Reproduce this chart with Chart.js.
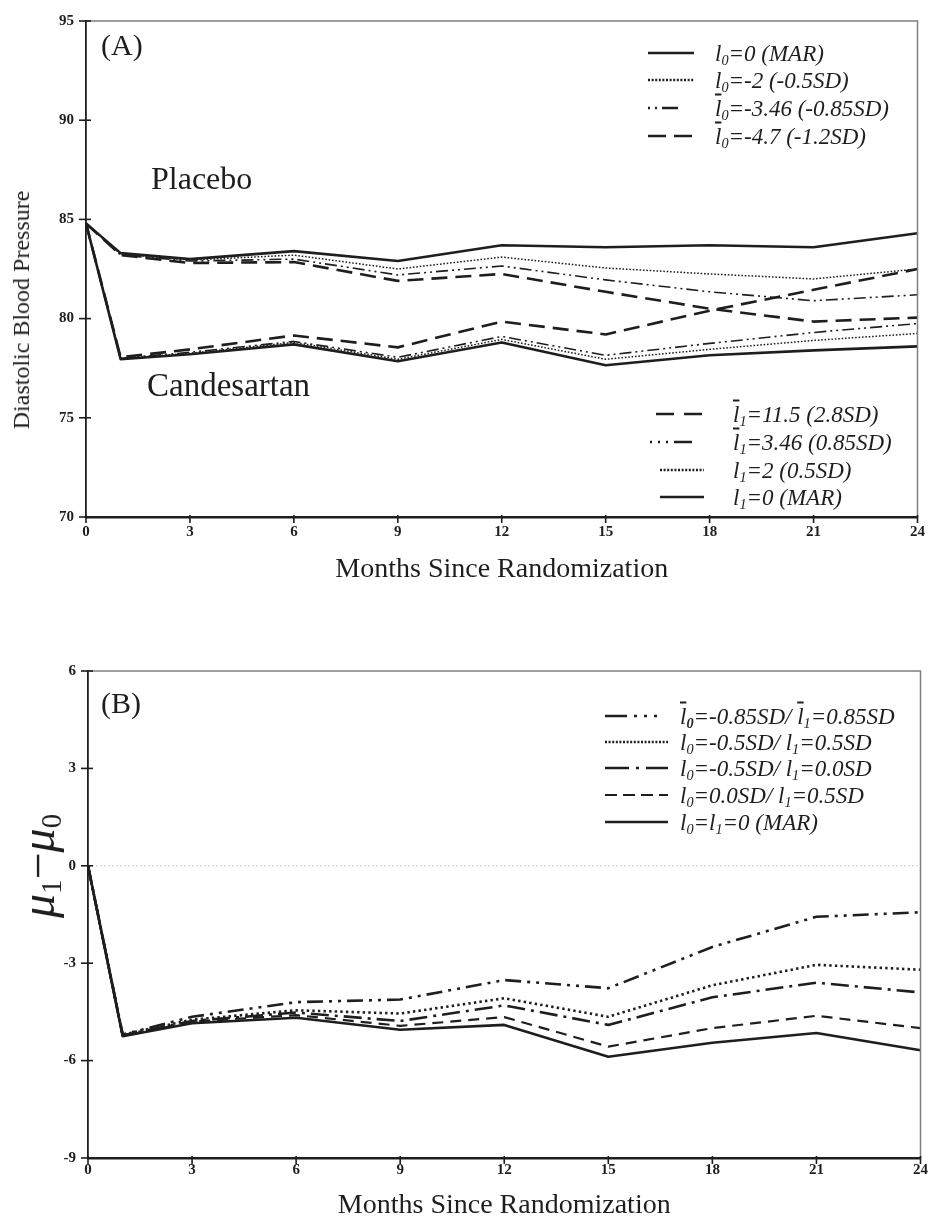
<!DOCTYPE html>
<html>
<head>
<meta charset="utf-8">
<script src="https://cdn.jsdelivr.net/npm/chart.js@4.4.1/dist/chart.umd.min.js"></script>
<style>
  body { margin: 0; background: #fff; }
  #page { position: relative; width: 931px; height: 1224px; overflow: hidden;
          font-family: "Liberation Serif", "Times New Roman", serif; color: #1e1e1e; }
  canvas { position: absolute; left: 0; }
  .t { position: absolute; white-space: nowrap; line-height: 1; transform: translateY(-50%); }
  .lg { font-style: italic; font-size: 23px; }
  .lg sub { font-size: 62%; vertical-align: -0.3em; line-height: 0; }
  .ob { text-decoration: overline; }
  .rot { position: absolute; white-space: nowrap; line-height: 1; transform: translate(-50%, -50%) rotate(-90deg); }
  .rot sub { font-size: 60%; vertical-align: -0.25em; font-style: normal; }
</style>
</head>
<body>
<div id="page">
  <canvas id="chartA" width="931" height="620" style="top:0"></canvas>
  <canvas id="chartB" width="931" height="584" style="top:640px"></canvas>

  <div class="t" style="left:101px;top:45px;font-size:30px">(A)</div>
  <div class="t" style="left:151px;top:178px;font-size:32px">Placebo</div>
  <div class="t" style="left:147px;top:385px;font-size:33px">Candesartan</div>
  <div class="rot" style="left:21px;top:310px;font-size:24px">Diastolic Blood Pressure</div>

  <div class="t" style="left:101px;top:703px;font-size:30px">(B)</div>
  <div class="rot" style="left:40px;top:866px;font-size:48px"><i>μ</i><sub>1</sub>−<i>μ</i><sub>0</sub></div>

  <div id="legends"></div>
</div>

<script>
// ---- data -------------------------------------------------------------
const months = [0, 1, 3, 6, 9, 12, 15, 18, 21, 24];

// (A) placebo arm
const placeboMAR  = [84.8, 83.3, 83.0, 83.4, 82.9, 83.7, 83.6, 83.7, 83.6, 84.3];
const placeboL2   = [84.8, 83.25, 82.95, 83.2, 82.5, 83.1, 82.55, 82.25, 82.0, 82.5];
const placeboL346 = [84.8, 83.2, 82.9, 83.0, 82.2, 82.65, 81.95, 81.35, 80.9, 81.2];
const placeboL47  = [84.8, 83.2, 82.8, 82.85, 81.9, 82.25, 81.35, 80.5, 79.85, 80.05];

// (A) candesartan arm
const candMAR  = [84.8, 77.95, 78.2, 78.7, 77.85, 78.8, 77.65, 78.15, 78.4, 78.6];
const candL2   = [84.8, 78.0, 78.25, 78.8, 77.95, 78.95, 77.95, 78.45, 78.9, 79.25];
const candL346 = [84.8, 78.0, 78.3, 78.85, 78.05, 79.1, 78.15, 78.75, 79.3, 79.75];
const candL115 = [84.8, 78.05, 78.45, 79.15, 78.55, 79.85, 79.2, 80.4, 81.45, 82.5];

// (B) treatment difference
const diff085   = [0, -5.2, -4.65, -4.2, -4.12, -3.52, -3.77, -2.5, -1.57, -1.43];
const diff05_05 = [0, -5.2, -4.74, -4.45, -4.55, -4.08, -4.65, -3.68, -3.05, -3.2];
const diff05_00 = [0, -5.22, -4.78, -4.52, -4.78, -4.3, -4.9, -4.05, -3.6, -3.9];
const diff00_05 = [0, -5.25, -4.8, -4.6, -4.93, -4.66, -5.57, -5.0, -4.62, -5.0];
const diffMAR   = [0, -5.25, -4.85, -4.68, -5.05, -4.9, -5.88, -5.45, -5.15, -5.68];

// legend labels
const legendPlacebo = [
  'l<sub>0</sub>=0 (MAR)',
  'l<sub>0</sub>=-2 (-0.5SD)',
  '<span class="ob">l</span><sub>0</sub>=-3.46 (-0.85SD)',
  '<span class="ob">l</span><sub>0</sub>=-4.7 (-1.2SD)'
];
const legendCand = [
  '<span class="ob">l</span><sub>1</sub>=11.5 (2.8SD)',
  '<span class="ob">l</span><sub>1</sub>=3.46 (0.85SD)',
  'l<sub>1</sub>=2 (0.5SD)',
  'l<sub>1</sub>=0 (MAR)'
];
const legendDiff = [
  '<span class="ob">l</span><sub><b>0</b></sub>=-0.85SD/ <span class="ob">l</span><sub>1</sub>=0.85SD',
  'l<sub>0</sub>=-0.5SD/ l<sub>1</sub>=0.5SD',
  'l<sub>0</sub>=-0.5SD/ l<sub>1</sub>=0.0SD',
  'l<sub>0</sub>=0.0SD/ l<sub>1</sub>=0.5SD',
  'l<sub>0</sub>=l<sub>1</sub>=0 (MAR)'
];

// ---- styles -----------------------------------------------------------
const SERIF = '"Liberation Serif", "Times New Roman", serif';
const INK = '#1e1e1e';
const SOLID = [];
const DOTTED = [1.6, 1.8];
const DASHDOTDOT = [12, 4, 2, 4, 2, 4];
const LONGDASH = [16, 8];

function pts(values) {
  return months.map((m, i) => ({ x: m, y: values[i] }));
}
function line(values, dash, width) {
  return { data: pts(values), borderColor: INK, borderWidth: width, borderDash: dash,
           pointRadius: 0, tension: 0, fill: false, borderCapStyle: 'butt', borderJoinStyle: 'round' };
}

// axes cross-ticks, frame, zero line and the legend samples
const frameTicks = {
  id: 'frameTicks',
  beforeDatasetsDraw(chart, args, opts) {
    if (!opts.zeroLine) return;
    const { ctx, chartArea: a, scales: { y } } = chart;
    const py = y.getPixelForValue(0);
    ctx.save();
    ctx.strokeStyle = '#cfcfcf';
    ctx.lineWidth = 1;
    ctx.setLineDash([2, 2]);
    ctx.beginPath(); ctx.moveTo(a.left, py); ctx.lineTo(a.right, py); ctx.stroke();
    ctx.restore();
  },
  afterDraw(chart, args, opts) {
    const { ctx, chartArea: a, scales: { x, y } } = chart;
    ctx.save();
    ctx.strokeStyle = '#808080';
    ctx.lineWidth = 1.5;
    ctx.beginPath();
    ctx.moveTo(a.left, a.top); ctx.lineTo(a.right, a.top); ctx.lineTo(a.right, a.bottom);
    ctx.stroke();

    ctx.strokeStyle = INK;
    ctx.lineWidth = 1.6;
    y.ticks.forEach(t => {
      const py = y.getPixelForValue(t.value);
      ctx.beginPath(); ctx.moveTo(a.left - 7, py); ctx.lineTo(a.left + 5, py); ctx.stroke();
    });
    x.ticks.forEach(t => {
      const px = x.getPixelForValue(t.value);
      ctx.beginPath(); ctx.moveTo(px, a.bottom - 2); ctx.lineTo(px, a.bottom + 6); ctx.stroke();
    });

    (opts.samples || []).forEach(s => {
      const ds = chart.data.datasets[s.ds];
      ctx.strokeStyle = ds.borderColor;
      ctx.lineWidth = s.width || ds.borderWidth;
      ctx.setLineDash(s.dash || ds.borderDash || []);
      ctx.beginPath(); ctx.moveTo(s.x0, s.y); ctx.lineTo(s.x1, s.y); ctx.stroke();
    });
    ctx.restore();
  }
};

function axisX(titlePadBottom, tickPad) {
  return {
    type: 'linear', min: 0, max: 24,
    ticks: { stepSize: 3, padding: tickPad, color: INK, font: { family: SERIF, size: 15, weight: 'bold' } },
    grid: { display: false, drawTicks: false },
    border: { display: true, color: INK, width: 2.6 },
    title: { display: true, text: 'Months Since Randomization', color: INK,
             font: { family: SERIF, size: 28 }, padding: { top: 0, bottom: titlePadBottom } }
  };
}
function axisY(min, max, step, width) {
  return {
    min: min, max: max,
    ticks: { stepSize: step, padding: 12, color: INK, font: { family: SERIF, size: 15, weight: 'bold' } },
    grid: { display: false, drawTicks: false },
    border: { display: true, color: INK, width: 1.8 },
    afterFit: s => { s.width = width; }
  };
}

// ---- panel A ----------------------------------------------------------
const rowsA1 = [53, 80, 108, 136];
const rowsA2 = [414, 442, 470, 497];
const rowsB = [716, 742, 768, 795, 822];

const xA = axisX(34, 6);
xA.afterFit = s => { s.height = 620 - 517; };

new Chart(document.getElementById('chartA'), {
  type: 'line',
  data: {
    datasets: [
      line(placeboMAR, SOLID, 2.6),
      line(placeboL2, DOTTED, 1.5),
      line(placeboL346, DASHDOTDOT, 1.6),
      line(placeboL47, LONGDASH, 2.6),
      line(candL115, LONGDASH, 2.6),
      line(candL346, DASHDOTDOT, 1.6),
      line(candL2, DOTTED, 1.5),
      line(candMAR, SOLID, 2.6)
    ]
  },
  options: {
    responsive: false, animation: false, events: [],
    layout: { padding: { top: 16, right: 10, left: 0, bottom: 0 } },
    plugins: {
      legend: { display: false }, tooltip: { enabled: false },
      frameTicks: {
        samples: [
          { ds: 0, x0: 648, x1: 694, y: rowsA1[0] },
          { ds: 1, x0: 648, x1: 694, y: rowsA1[1], width: 2.6, dash: [2, 1.6] },
          { ds: 2, x0: 648, x1: 694, y: rowsA1[2], width: 2.6, dash: [2, 5, 2, 5, 16, 100] },
          { ds: 3, x0: 648, x1: 694, y: rowsA1[3], width: 2.6, dash: [18, 8] },
          { ds: 4, x0: 656, x1: 704, y: rowsA2[0], width: 2.6, dash: [18, 10] },
          { ds: 5, x0: 650, x1: 704, y: rowsA2[1], width: 2.6, dash: [2, 6, 2, 6, 2, 6, 18, 100] },
          { ds: 6, x0: 660, x1: 704, y: rowsA2[2], width: 2.6, dash: [2, 1.6] },
          { ds: 7, x0: 660, x1: 704, y: rowsA2[3] }
        ]
      }
    },
    scales: {
      x: xA,
      y: axisY(70, 95, 5, 86)
    }
  },
  plugins: [frameTicks]
});

// ---- panel B ----------------------------------------------------------
const offB = 640;
const xB = axisX(2, 3);
xB.afterFit = s => { s.height = 584 - (1158 - offB); };

new Chart(document.getElementById('chartB'), {
  type: 'line',
  data: {
    datasets: [
      line(diff085, [16, 6, 3, 6, 3, 6], 2.6),
      line(diff05_05, [2.4, 3.2], 2.6),
      line(diff05_00, [18, 6, 3, 6], 2.6),
      line(diff00_05, [11, 7], 2.2),
      line(diffMAR, SOLID, 2.6)
    ]
  },
  options: {
    responsive: false, animation: false, events: [],
    layout: { padding: { top: 671 - offB, right: 5, left: 0, bottom: 0 } },
    plugins: {
      legend: { display: false }, tooltip: { enabled: false },
      frameTicks: {
        zeroLine: true,
        samples: [
          { ds: 0, x0: 605, x1: 668, y: rowsB[0] - offB, dash: [22, 7, 3, 7, 3, 7, 3, 40] },
          { ds: 1, x0: 605, x1: 668, y: rowsB[1] - offB, dash: [2, 1.6] },
          { ds: 2, x0: 605, x1: 668, y: rowsB[2] - offB, dash: [24, 7, 3, 7] },
          { ds: 3, x0: 605, x1: 668, y: rowsB[3] - offB, dash: [12, 6] },
          { ds: 4, x0: 605, x1: 668, y: rowsB[4] - offB }
        ]
      }
    },
    scales: {
      x: xB,
      y: axisY(-9, 6, 3, 88)
    }
  },
  plugins: [frameTicks]
});

// ---- legend text --------------------------------------------------------
const host = document.getElementById('legends');
function addRows(labels, rows, left) {
  labels.forEach((html, i) => {
    const d = document.createElement('div');
    d.className = 't lg';
    d.style.left = left + 'px';
    d.style.top = rows[i] + 'px';
    d.innerHTML = html;
    host.appendChild(d);
  });
}
addRows(legendPlacebo, rowsA1, 715);
addRows(legendCand, rowsA2, 733);
addRows(legendDiff, rowsB, 680);
</script>
</body>
</html>
